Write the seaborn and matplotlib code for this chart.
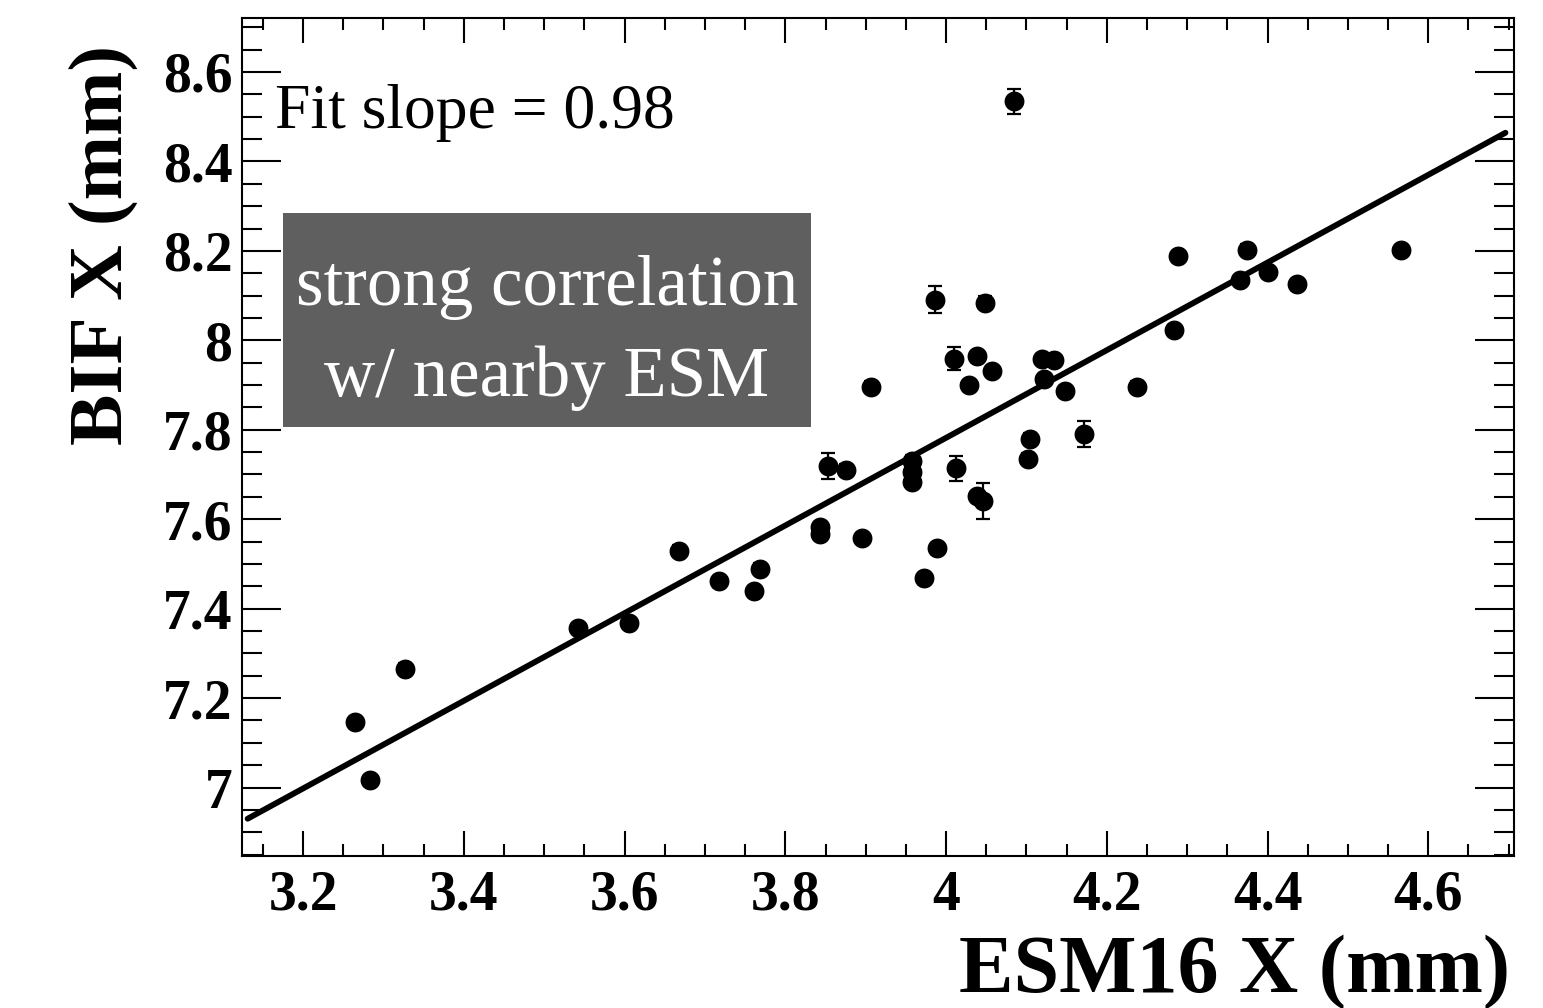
import numpy as np
import pandas as pd
import matplotlib
matplotlib.use("Agg")
import matplotlib.pyplot as plt
import seaborn as sns
from matplotlib.ticker import MultipleLocator, FixedLocator
from matplotlib.patches import Rectangle

# ---------------- data ----------------
esm16_x = [3.265, 3.283, 3.327, 3.542, 3.606, 3.668, 3.718, 3.761, 3.768,
           3.843, 3.843, 3.853, 3.875, 3.895, 3.907, 3.958, 3.958, 3.958,
           3.972, 3.986, 3.989, 4.010, 4.012, 4.028, 4.038, 4.046, 4.039,
           4.048, 4.057, 4.084, 4.102, 4.105, 4.119, 4.122, 4.134, 4.148,
           4.172, 4.237, 4.283, 4.289, 4.366, 4.374, 4.401, 4.437, 4.566]
bif_x = [7.146, 7.017, 7.266, 7.356, 7.367, 7.530, 7.461, 7.439, 7.489,
         7.582, 7.567, 7.720, 7.711, 7.558, 7.896, 7.731, 7.705, 7.683,
         7.468, 8.091, 7.535, 7.959, 7.714, 7.899, 7.651, 7.640, 7.964,
         8.084, 7.931, 8.534, 7.735, 7.780, 7.958, 7.913, 7.955, 7.886,
         7.791, 7.896, 8.022, 8.188, 8.134, 8.203, 8.152, 8.125, 8.202]
bif_x_err = [0.012, 0.012, 0.012, 0.012, 0.012, 0.012, 0.012, 0.012, 0.012,
             0.012, 0.012, 0.029, 0.012, 0.012, 0.012, 0.012, 0.012, 0.012,
             0.012, 0.030, 0.012, 0.026, 0.028, 0.012, 0.012, 0.040, 0.012,
             0.015, 0.012, 0.028, 0.012, 0.012, 0.012, 0.012, 0.012, 0.012,
             0.029, 0.012, 0.012, 0.012, 0.012, 0.012, 0.012, 0.012, 0.012]

fit_slope = 0.98
fit_intercept = 3.862
fit_x_range = [3.131, 4.696]

x_limits = [3.124, 4.706]
y_limits = [6.847, 8.720]
x_ticks = [3.2, 3.4, 3.6, 3.8, 4.0, 4.2, 4.4, 4.6]
x_tick_labels = ["3.2", "3.4", "3.6", "3.8", "4", "4.2", "4.4", "4.6"]
y_ticks = [7.0, 7.2, 7.4, 7.6, 7.8, 8.0, 8.2, 8.4, 8.6]
y_tick_labels = ["7", "7.2", "7.4", "7.6", "7.8", "8", "8.2", "8.4", "8.6"]

x_label = "ESM16 X (mm)"
y_label = "BIF X (mm)"
fit_text = "Fit slope = 0.98"
note_text = "strong correlation\nw/ nearby ESM"

# ---------------- style ----------------
sns.set_theme(style="ticks")
plt.rcParams["font.family"] = ["Liberation Serif", "DejaVu Serif"]

W, H = 1543, 1008
fig = plt.figure(figsize=(W / 100, H / 100), dpi=100)
fig.patch.set_facecolor("white")
ax_left, ax_right, ax_top, ax_bottom = 242, 1513.5, 18.3, 856
ax = fig.add_axes([ax_left / W, 1 - ax_bottom / H,
                   (ax_right - ax_left) / W, (ax_bottom - ax_top) / H])
ax.set_facecolor("white")

df = pd.DataFrame({"esm": esm16_x, "bif": bif_x, "err": bif_x_err})

ax.errorbar(df["esm"], df["bif"], yerr=df["err"], fmt="none", ecolor="black",
            elinewidth=1.6, capsize=4.7, capthick=1.6, zorder=2)
sns.scatterplot(data=df, x="esm", y="bif", color="black", s=205,
                linewidth=0, zorder=3, ax=ax, legend=False)

fit_df = pd.DataFrame({"x": fit_x_range})
fit_df["y"] = fit_intercept + fit_slope * fit_df["x"]
sns.lineplot(data=fit_df, x="x", y="y", color="black", linewidth=4.2,
             ax=ax, zorder=4, legend=False)

ax.set_xlim(*x_limits)
ax.set_ylim(*y_limits)
ax.xaxis.set_major_locator(FixedLocator(x_ticks))
ax.set_xticklabels(x_tick_labels)
ax.yaxis.set_major_locator(FixedLocator(y_ticks))
ax.set_yticklabels(y_tick_labels)
ax.xaxis.set_minor_locator(MultipleLocator(0.05))
ax.yaxis.set_minor_locator(MultipleLocator(0.05))

ax.tick_params(axis="both", which="both", direction="in", top=True,
               right=True, width=1.5, color="black", labelsize=40,
               labelcolor="black")
ax.tick_params(axis="x", which="major", length=18, pad=10)
ax.tick_params(axis="x", which="minor", length=8.6)
ax.tick_params(axis="y", which="major", length=28, pad=7)
ax.tick_params(axis="y", which="minor", length=14.4)
for lab in ax.get_xticklabels() + ax.get_yticklabels():
    lab.set_fontweight("bold")

for s in ax.spines.values():
    s.set_linewidth(1.5)
    s.set_color("black")
    s.set_visible(True)

ax.set_xlabel(x_label, fontsize=59, fontweight="bold", color="black")
ax.xaxis.label.set_ha("right")
ax.xaxis.label.set_va("baseline")
ax.xaxis.set_label_coords(0.997, -0.1623)

ax.set_ylabel(y_label, fontsize=55.5, fontweight="bold", color="black",
              rotation=90, rotation_mode="anchor")
ax.yaxis.label.set_ha("right")
ax.yaxis.label.set_va("baseline")
ax.yaxis.set_label_coords(-0.0944, 0.968)

fig.text(275 / W, 1 - 128 / H, fit_text, fontsize=45.8, ha="left",
         va="baseline", color="black")

box_x0, box_x1, box_y0, box_y1 = 283, 811, 213, 427
fig.add_artist(Rectangle((box_x0 / W, 1 - box_y1 / H), (box_x1 - box_x0) / W,
                         (box_y1 - box_y0) / H, transform=fig.transFigure,
                         facecolor="#5f5f5f", edgecolor="none"))
fig.text((box_x0 + box_x1) / 2 / W, 1 - 333 / H, note_text, fontsize=51,
         color="white", ha="center", va="center", multialignment="center",
         linespacing=1.52)

fig.savefig("out.png", dpi=100, facecolor="white")
